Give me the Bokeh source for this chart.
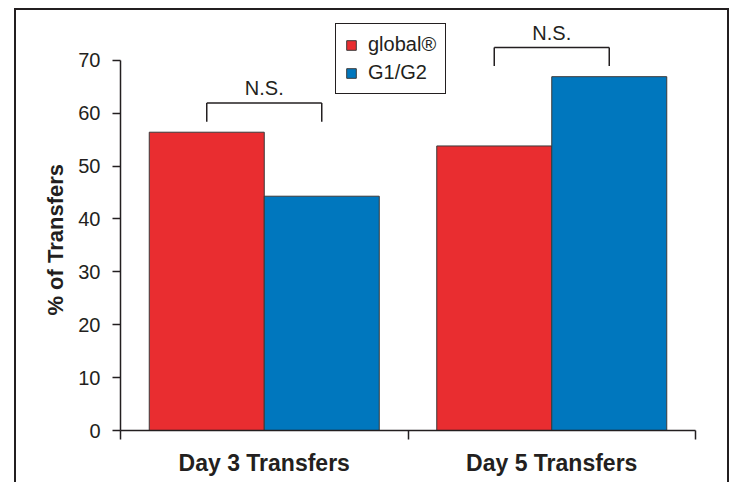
from bokeh.plotting import figure
from bokeh.models import (ColumnDataSource, Range1d, FixedTicker, Legend, LegendItem)
from bokeh.transform import dodge
from bokeh.embed import file_html
from bokeh.resources import INLINE
from bokeh.core.properties import value

# ---- data ----
categories = ["Day 3 Transfers", "Day 5 Transfers"]
series_names = ["global®", "G1/G2"]
global_values = [56.4, 53.8]
g1g2_values = [44.3, 66.9]
significance = ["N.S.", "N.S."]
y_ticks = [0, 10, 20, 30, 40, 50, 60, 70]
y_title = "% of Transfers"

RED = "#E92D30"
BLUE = "#0077BE"
INK = "#231F20"
FONT = "Liberation Sans"

n = len(categories)
centers = [i + 0.5 for i in range(n)]

p = figure(x_range=Range1d(0, n), y_range=Range1d(0, 77.9),
           width=715, height=474, output_backend="svg", toolbar_location=None,
           min_border_left=104, min_border_right=36, min_border_top=8,
           min_border_bottom=54)
p.styles = {"margin-left": "14px",
            "margin-top": "8px",
            "border-top": f"2px solid {INK}",
            "border-left": f"2px solid {INK}",
            "border-right": f"2px solid {INK}"}
p.outline_line_color = None
p.xgrid.visible = False
p.ygrid.visible = False

# y axis (title padded with no-break spaces so it centres on the 0-70 span)
ya = p.yaxis[0]
ya.ticker = FixedTicker(ticks=y_ticks)
ya.bounds = (0, 70)
ya.axis_label = y_title + "\u00a0" * 5
ya.axis_label_text_font = FONT
ya.axis_label_text_font_style = "bold"
ya.axis_label_text_font_size = "22px"
ya.axis_label_text_color = INK
ya.axis_label_standoff = 7
ya.major_label_text_font = FONT
ya.major_label_text_font_size = "20px"
ya.major_label_text_color = INK
ya.major_label_standoff = 12
ya.major_tick_in = 0
ya.major_tick_out = 8
ya.minor_tick_line_color = None
ya.axis_line_width = 1.5
ya.axis_line_color = INK
ya.major_tick_line_width = 1.5
ya.major_tick_line_color = INK

# x axis: labels at category centres, ticks at category edges
xa = p.xaxis[0]
xa.ticker = FixedTicker(ticks=centers, minor_ticks=list(range(n + 1)))
xa.major_label_overrides = {c: lab for c, lab in zip(centers, categories)}
xa.major_tick_line_color = None
xa.major_tick_in = 0
xa.major_tick_out = 9
xa.minor_tick_in = 0
xa.minor_tick_out = 9
xa.minor_tick_line_color = INK
xa.minor_tick_line_width = 1.5
xa.axis_line_width = 1.5
xa.axis_line_color = INK
xa.major_label_text_font = FONT
xa.major_label_text_font_style = "bold"
xa.major_label_text_font_size = "23px"
xa.major_label_text_color = INK
xa.major_label_standoff = 10

# bars
src = ColumnDataSource(dict(x=centers, cat=categories, g=global_values, b=g1g2_values,
                            lo=[max(a, b) + 2.0 for a, b in zip(global_values, g1g2_values)],
                            hi=[max(a, b) + 5.5 for a, b in zip(global_values, g1g2_values)],
                            ty=[max(a, b) + 6.2 for a, b in zip(global_values, g1g2_values)],
                            sig=significance))
L = dodge("x", -0.2)
R = dodge("x", 0.2)
r1 = p.vbar(x=L, top="g", width=0.4, source=src,
            fill_color=RED, line_color="#3a3a3a", line_width=1)
r2 = p.vbar(x=R, top="b", width=0.4, source=src,
            fill_color=BLUE, line_color="#3a3a3a", line_width=1)

# significance brackets
p.segment(x0=L, y0="hi", x1=R, y1="hi", source=src, line_color=INK, line_width=1.5)
p.segment(x0=L, y0="lo", x1=L, y1="hi", source=src, line_color=INK, line_width=1.5)
p.segment(x0=R, y0="lo", x1=R, y1="hi", source=src, line_color=INK, line_width=1.5)
p.text(x="x", y="ty", text="sig", source=src, text_align="center",
       text_baseline="bottom", text_font=value(FONT), text_font_size="20px",
       text_color=INK)

legend = Legend(items=[LegendItem(label=series_names[0], renderers=[r1]),
                       LegendItem(label=series_names[1], renderers=[r2])],
                location=(215, 336), border_line_color=INK, border_line_width=1.5,
                border_line_alpha=1.0,
                padding=9, spacing=5, glyph_width=12, glyph_height=12,
                label_standoff=11, label_text_font=FONT, label_text_font_size="20px",
                label_text_color=INK, margin=0, background_fill_alpha=1)
p.add_layout(legend)

open("out.html", "w").write(file_html(p, INLINE))
